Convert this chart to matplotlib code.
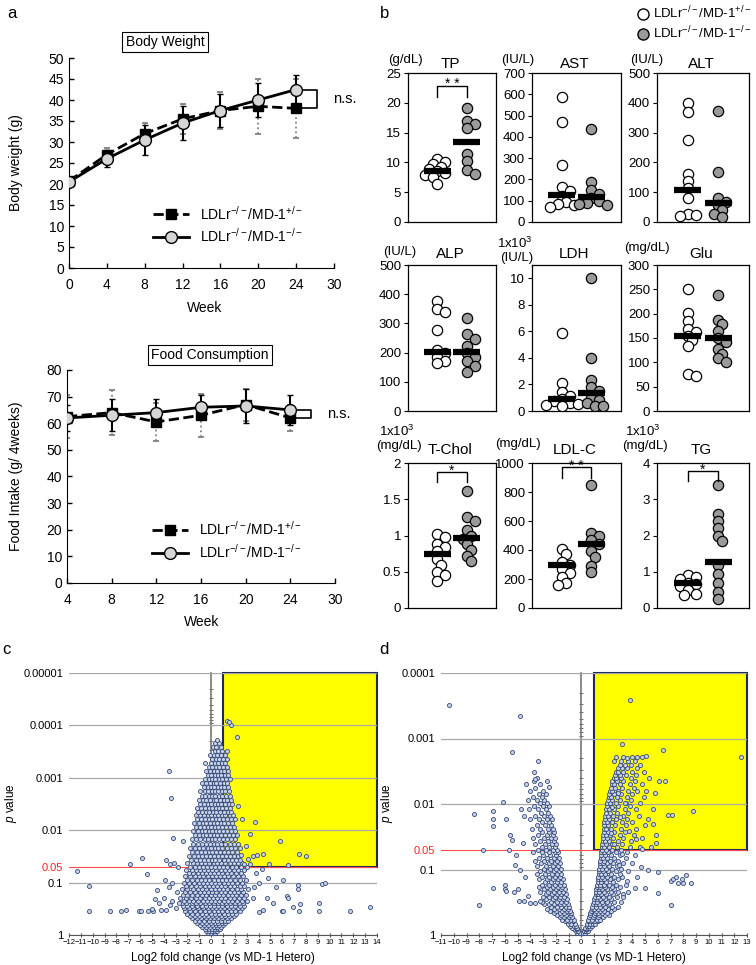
import numpy as np
import matplotlib
matplotlib.use('Agg')
import matplotlib.pyplot as plt
from matplotlib.patches import Rectangle
from matplotlib.lines import Line2D
from matplotlib.ticker import NullLocator

plt.rcParams['font.family'] = ['Liberation Sans', 'DejaVu Sans']
plt.rcParams['mathtext.fontset'] = 'custom'
plt.rcParams['mathtext.rm'] = 'Liberation Sans'
plt.rcParams['mathtext.it'] = 'Liberation Sans:italic'
plt.rcParams['mathtext.bf'] = 'Liberation Sans:bold'

HET = 'LDLr$^{-/-}$/MD-1$^{+/-}$'
KO = 'LDLr$^{-/-}$/MD-1$^{-/-}$'

# ---- panel a : body weight / food consumption ----
bw_weeks = ['0', '4', '8', '12', '16', '20', '24', '30']
bw_het = [20.7, 27.0, 32.0, 35.5, 37.5, 38.5, 38.0]
bw_het_sd = [1.0, 1.5, 2.5, 3.5, 4.5, 6.5, 7.0]
bw_ko = [20.5, 26.0, 30.5, 34.5, 37.5, 40.0, 42.5]
bw_ko_sd = [1.0, 2.0, 3.5, 4.0, 4.0, 4.0, 3.5]

fc_weeks = ['4', '8', '12', '16', '20', '24', '30']
fc_het = [62.5, 64.0, 60.5, 63.0, 67.0, 62.0]
fc_het_sd = [8.0, 8.5, 7.0, 8.0, 6.0, 5.0]
fc_ko = [62.0, 63.0, 64.0, 66.0, 66.5, 65.0]
fc_ko_sd = [5.0, 6.0, 5.0, 4.5, 6.5, 5.5]

# ---- panel b : serum chemistry ----
b_names = ['TP', 'AST', 'ALT', 'ALP', 'LDH', 'Glu', 'T-Chol', 'LDL-C', 'TG']
b_units = ['(g/dL)', '(IU/L)', '(IU/L)', '(IU/L)', '(IU/L)', '(mg/dL)',
           '(mg/dL)', '(mg/dL)', '(mg/dL)']
b_scale = ['', '', '', '', '1x10$^3$', '', '1x10$^3$', '', '1x10$^3$']
b_ymax = [25, 700, 500, 500, 11, 300, 2, 1000, 4]
b_ystep = [5, 100, 100, 100, 2, 50, 0.5, 200, 1]
b_het = [
    [10.6, 10.1, 9.8, 9.3, 8.9, 8.5, 8.2, 7.9, 7.5, 6.3],
    [585, 470, 268, 165, 145, 120, 95, 85, 78, 72],
    [400, 368, 276, 162, 137, 114, 82, 28, 22, 20],
    [377, 350, 340, 276, 210, 198, 185, 172, 163],
    [5.9, 2.1, 1.4, 1.1, 0.9, 0.75, 0.6, 0.5, 0.45, 0.4],
    [250, 202, 185, 168, 162, 155, 145, 133, 76, 72],
    [1.02, 0.98, 0.88, 0.84, 0.78, 0.68, 0.6, 0.5, 0.45, 0.37],
    [410, 370, 320, 300, 270, 240, 215, 175, 160],
    [0.9, 0.85, 0.8, 0.7, 0.65, 0.6, 0.5, 0.4, 0.35],
]
b_ko = [
    [19.2, 17.0, 16.5, 15.8, 11.4, 10.3, 8.7, 8.0],
    [435, 190, 150, 130, 115, 100, 90, 85, 80],
    [373, 168, 80, 68, 57, 40, 28, 17],
    [318, 262, 248, 222, 200, 185, 170, 155, 133],
    [10.0, 4.0, 2.3, 1.8, 1.5, 1.0, 0.8, 0.6, 0.4, 0.35],
    [238, 188, 178, 165, 150, 142, 128, 118, 108, 100],
    [1.62, 1.25, 1.2, 1.08, 1.0, 0.95, 0.88, 0.8, 0.72, 0.65],
    [850, 515, 495, 470, 440, 390, 350, 290, 245],
    [3.4, 2.6, 2.4, 2.2, 2.0, 1.85, 1.2, 0.95, 0.7, 0.45, 0.25],
]
b_het_mean = [8.5, 126, 106, 203, 0.9, 155, 0.74, 294, 0.69]
b_ko_mean = [13.5, 118, 63, 203, 1.33, 151, 0.97, 441, 1.26]
b_sig = {0: ('* *', 21.0, 22.9), 6: ('*', 1.74, 1.876),
         7: ('* *', 897, 972), 8: ('*', 3.5, 3.78)}

# ---- panel c : volcano (p value vs log2 fold change) ----
c_rows = [
    (0.96, [-0.1, 0.05, 0.15]),
    (0.90, [-0.25, -0.05, 0.2, 0.3]),
    (0.83, [-0.4, -0.15, 0.1, 0.35, 0.5]),
    (0.76, [-0.55, -0.2, 0.05, 0.3, 0.6, 0.75]),
    (0.70, [-0.8, -0.45, -0.1, 0.2, 0.5, 0.85]),
    (0.64, [-0.9, -0.6, -0.25, 0.1, 0.4, 0.7, 1.0]),
    (0.58, [-1.2, -0.8, -0.4, -0.05, 0.3, 0.6, 0.95, 1.2]),
    (0.53, [-1.35, -1.0, -0.6, -0.2, 0.15, 0.5, 0.8, 1.15, 1.45]),
    (0.48, [-1.6, -1.2, -0.85, -0.45, -0.1, 0.25, 0.6, 0.95, 1.3, 1.65]),
    (0.43, [-1.8, -1.4, -1.0, -0.6, -0.25, 0.1, 0.45, 0.8, 1.15, 1.5, 1.9]),
    (0.39, [-2.0, -1.6, -1.2, -0.8, -0.4, 0.0, 0.35, 0.7, 1.05, 1.4, 1.8, 2.1]),
    (0.35, [-2.2, -1.75, -1.35, -0.95, -0.55, -0.2, 0.2, 0.55, 0.9, 1.3, 1.65, 2.0, 2.4]),
    (0.31, [-2.3, -1.9, -1.5, -1.1, -0.7, -0.3, 0.05, 0.4, 0.75, 1.1, 1.5, 1.85, 2.25, 2.6]),
    (0.28, [-2.4, -2.0, -1.6, -1.2, -0.8, -0.45, -0.1, 0.25, 0.6, 0.95, 1.3, 1.7, 2.05, 2.45, 2.8]),
    (0.25, [-2.5, -2.1, -1.65, -1.25, -0.9, -0.5, -0.15, 0.2, 0.55, 0.9, 1.25, 1.6, 2.0, 2.35, 2.7]),
    (0.22, [-2.3, -1.9, -1.5, -1.1, -0.7, -0.35, 0.0, 0.35, 0.7, 1.05, 1.45, 1.8, 2.2, 2.6, 3.0]),
    (0.195, [-2.6, -2.1, -1.7, -1.3, -0.9, -0.55, -0.2, 0.15, 0.5, 0.85, 1.2, 1.6, 1.95, 2.35, 2.75]),
    (0.17, [-2.4, -2.0, -1.6, -1.2, -0.8, -0.4, -0.05, 0.3, 0.65, 1.0, 1.4, 1.75, 2.1, 2.5, 2.9]),
    (0.15, [-2.2, -1.75, -1.35, -0.95, -0.6, -0.25, 0.1, 0.45, 0.8, 1.15, 1.55, 1.9, 2.3, 2.7]),
    (0.13, [-2.5, -2.0, -1.55, -1.15, -0.75, -0.4, -0.05, 0.3, 0.65, 1.0, 1.35, 1.75, 2.15, 2.55, 3.1]),
    (0.115, [-2.1, -1.7, -1.3, -0.9, -0.55, -0.2, 0.15, 0.5, 0.85, 1.2, 1.6, 1.95, 2.4, 2.8]),
    (0.10, [-2.3, -1.85, -1.45, -1.05, -0.7, -0.35, 0.0, 0.35, 0.7, 1.05, 1.4, 1.8, 2.2, 2.6]),
    (0.088, [-2.0, -1.6, -1.2, -0.85, -0.5, -0.15, 0.2, 0.55, 0.9, 1.25, 1.6, 2.0, 2.45, 2.9]),
    (0.076, [-2.2, -1.75, -1.35, -1.0, -0.65, -0.3, 0.05, 0.4, 0.75, 1.1, 1.45, 1.85, 2.25, 2.65]),
    (0.066, [-1.9, -1.5, -1.15, -0.8, -0.45, -0.1, 0.25, 0.6, 0.95, 1.3, 1.7, 2.1, 2.5]),
    (0.057, [-2.1, -1.65, -1.3, -0.95, -0.6, -0.25, 0.1, 0.45, 0.8, 1.15, 1.5, 1.9, 2.3, 2.75]),
    (0.050, [-1.8, -1.4, -1.05, -0.7, -0.35, 0.0, 0.3, 0.65, 1.0, 1.35, 1.75, 2.1, 2.55, 3.0]),
    (0.043, [-2.0, -1.55, -1.2, -0.85, -0.5, -0.15, 0.2, 0.5, 0.85, 1.2, 1.55, 1.9, 2.3, 2.6]),
    (0.037, [-1.7, -1.3, -0.95, -0.6, -0.3, 0.05, 0.35, 0.7, 1.05, 1.4, 1.75, 2.1, 2.45]),
    (0.031, [-1.85, -1.45, -1.1, -0.75, -0.4, -0.1, 0.2, 0.55, 0.9, 1.25, 1.6, 1.95, 2.3]),
    (0.026, [-1.6, -1.2, -0.85, -0.5, -0.2, 0.1, 0.4, 0.75, 1.1, 1.45, 1.8, 2.2]),
    (0.022, [-1.75, -1.35, -1.0, -0.65, -0.3, 0.0, 0.3, 0.6, 0.95, 1.3, 1.65, 2.0, 2.4]),
    (0.018, [-1.5, -1.1, -0.75, -0.45, -0.1, 0.2, 0.5, 0.85, 1.2, 1.55, 1.9, 2.25]),
    (0.015, [-1.65, -1.25, -0.9, -0.55, -0.25, 0.05, 0.35, 0.7, 1.0, 1.35, 1.7, 2.05]),
    (0.0125, [-1.4, -1.05, -0.7, -0.4, -0.1, 0.2, 0.5, 0.8, 1.15, 1.5, 1.85, 2.2]),
    (0.0105, [-1.55, -1.15, -0.8, -0.5, -0.2, 0.1, 0.4, 0.7, 1.0, 1.35, 1.7, 2.0]),
    (0.0088, [-1.3, -0.95, -0.6, -0.3, 0.0, 0.3, 0.6, 0.9, 1.25, 1.6, 1.95]),
    (0.0074, [-1.45, -1.05, -0.7, -0.4, -0.1, 0.2, 0.5, 0.8, 1.1, 1.45, 1.8]),
    (0.0062, [-1.2, -0.85, -0.5, -0.2, 0.1, 0.4, 0.7, 1.0, 1.35, 1.7, 2.05]),
    (0.0052, [-1.3, -0.95, -0.6, -0.3, 0.0, 0.3, 0.6, 0.9, 1.2, 1.55, 1.85]),
    (0.0044, [-1.1, -0.75, -0.45, -0.15, 0.15, 0.45, 0.75, 1.05, 1.4, 1.7]),
    (0.0037, [-1.2, -0.85, -0.5, -0.2, 0.1, 0.4, 0.65, 0.95, 1.25, 1.6]),
    (0.0031, [-0.95, -0.6, -0.3, 0.0, 0.3, 0.55, 0.85, 1.15, 1.5, 1.8]),
    (0.0026, [-1.05, -0.7, -0.4, -0.1, 0.2, 0.45, 0.75, 1.05, 1.35, 1.65]),
    (0.0022, [-0.8, -0.5, -0.2, 0.1, 0.35, 0.65, 0.95, 1.25, 1.55]),
    (0.0018, [-0.9, -0.55, -0.25, 0.05, 0.3, 0.6, 0.9, 1.2, 1.5]),
    (0.0015, [-0.6, -0.3, 0.0, 0.25, 0.55, 0.8, 1.1, 1.4]),
    (0.00125, [-0.75, -0.4, -0.1, 0.2, 0.45, 0.75, 1.05, 1.35]),
    (0.00105, [-0.5, -0.2, 0.1, 0.35, 0.65, 0.95, 1.25, 1.6]),
    (0.00088, [-0.3, 0.0, 0.3, 0.55, 0.85, 1.15, 1.45]),
    (0.00074, [-0.45, -0.1, 0.2, 0.5, 0.8, 1.1, 1.4]),
    (0.00062, [-0.2, 0.1, 0.4, 0.7, 1.0, 1.3]),
    (0.00052, [-0.5, 0.0, 0.3, 0.6, 0.9, 1.2]),
    (0.00044, [0.1, 0.4, 0.7, 1.0, 1.35]),
    (0.00037, [-0.1, 0.2, 0.5, 0.85, 1.2]),
    (0.00031, [0.3, 0.6, 0.9, 1.3]),
    (0.00026, [0.15, 0.45, 0.8]),
    (0.00022, [0.35, 0.65]),
    (0.00019, [0.5]),
]
c_outliers = [
    (-11.3, 0.06), (-10.3, 0.117), (-10.3, 0.35), (-8.5, 0.35), (-7.6, 0.35), (-7.2, 0.33),
    (-6.85, 0.045), (-6.1, 0.35), (-5.9, 0.35), (-5.8, 0.034), (-5.4, 0.07), (-5.3, 0.35),
    (-4.9, 0.35), (-5.0, 0.32), (-4.6, 0.14), (-4.7, 0.21), (-4.4, 0.24), (-4.2, 0.34),
    (-3.8, 0.037), (-3.6, 7.4e-4), (-3.4, 0.0024), (-3.2, 0.014), (-2.4, 0.016),
    (-3.5, 0.045), (-3.1, 0.042), (-2.8, 0.05), (-3.9, 0.09), (-3.6, 0.12), (-3.3, 0.1),
    (-4.0, 0.2), (-3.5, 0.27), (-3.0, 0.3), (-3.8, 0.33), (-3.3, 0.22), (-2.9, 0.15),
    (-2.7, 0.25), (2.2, 1.7e-4), (1.7, 1.0e-4), (1.3, 8.3e-5), (1.5, 8.5e-5),
    (3.66, 0.007), (3.3, 0.012), (5.8, 0.016), (4.4, 0.028), (7.4, 0.029), (8.0, 0.031),
    (6.45, 0.046), (4.9, 0.045), (3.9, 0.03), (3.5, 0.031), (9.35, 0.107), (9.6, 0.1),
    (7.3, 0.11), (7.3, 0.13), (6.1, 0.09), (5.5, 0.12), (6.4, 0.18), (6.5, 0.2),
    (6.9, 0.29), (7.5, 0.26), (9.1, 0.25), (9.1, 0.35), (11.75, 0.35), (13.45, 0.29),
    (6.0, 0.35), (6.1, 0.35), (7.4, 0.35), (5.2, 0.25), (4.7, 0.2), (4.4, 0.33),
    (4.0, 0.36), (3.6, 0.12), (4.0, 0.1), (4.8, 0.08), (3.5, 0.2), (3.8, 0.065),
    (4.3, 0.055), (2.6, 0.006), (2.9, 0.02), (3.1, 0.035), (2.75, 0.045), (2.5, 0.03),
    (3.3, 0.045), (2.3, 0.0035),
]

# ---- panel d : volcano ----
d_rows = [
    (0.96, [-0.15, -0.05, 0.08, 0.2]),
    (0.92, [-0.3, -0.12, 0.12, 0.28]),
    (0.87, [-0.42, -0.22, 0.2, 0.38, 0.5]),
    (0.82, [-0.55, -0.35, 0.3, 0.48]),
    (0.77, [-0.7, -0.45, -0.3, 0.33, 0.55, 0.7]),
    (0.72, [-0.85, -0.6, -0.4, 0.42, 0.62, 0.88]),
    (0.67, [-1.05, -0.78, -0.5, 0.45, 0.7, 0.95, 1.1]),
    (0.62, [-1.25, -0.95, -0.62, 0.5, 0.78, 1.05, 1.3]),
    (0.58, [-1.5, -1.12, -0.8, -0.6, 0.55, 0.85, 1.2, 1.5]),
    (0.54, [-1.7, -1.35, -1.0, -0.72, 0.6, 0.9, 1.3, 1.7]),
    (0.50, [-1.9, -1.55, -1.2, -0.85, 0.66, 0.98, 1.42, 1.85, 2.2]),
    (0.46, [-2.15, -1.7, -1.35, -1.0, -0.8, 0.7, 1.05, 1.3, 1.6, 2.0]),
    (0.43, [-2.45, -1.95, -1.5, -1.15, -0.9, 0.78, 1.12, 1.5, 1.82, 2.35]),
    (0.40, [-2.7, -2.15, -1.75, -1.38, -1.02, 0.82, 1.02, 1.28, 1.65, 2.1, 2.6]),
    (0.37, [-2.35, -1.9, -1.55, -1.2, -0.95, 0.88, 1.18, 1.45, 1.9, 2.45, 2.9]),
    (0.34, [-2.9, -2.55, -2.1, -1.7, -1.35, -1.05, 0.92, 1.12, 1.38, 1.7, 2.2]),
    (0.31, [-3.1, -2.4, -1.9, -1.55, -1.2, 0.98, 1.25, 1.6, 2.0, 2.6, 3.1]),
    (0.285, [-2.75, -2.25, -1.75, -1.42, -1.1, 1.02, 1.2, 1.48, 1.85, 2.35]),
    (0.26, [-3.0, -2.5, -2.05, -1.65, -1.32, 1.08, 1.35, 1.72, 2.15, 2.8]),
    (0.24, [-2.8, -2.3, -1.9, -1.55, -1.22, 1.12, 1.3, 1.58, 1.98, 2.5, 3.3]),
    (0.22, [-3.2, -2.62, -2.15, -1.75, -1.4, 1.15, 1.42, 1.82, 2.3, 2.9]),
    (0.20, [-2.95, -2.45, -2.0, -1.62, -1.3, 1.18, 1.38, 1.65, 2.05, 2.55]),
    (0.185, [-3.35, -2.7, -2.25, -1.85, -1.5, 1.22, 1.5, 1.9, 2.4, 3.0]),
    (0.17, [-3.1, -2.55, -2.08, -1.7, -1.38, 1.25, 1.45, 1.75, 2.15, 2.7, 3.5]),
    (0.155, [-2.85, -2.35, -1.92, -1.55, 1.28, 1.58, 1.98, 2.5]),
    (0.14, [-3.3, -2.7, -2.2, -1.8, -1.45, 1.32, 1.52, 1.82, 2.25, 2.85]),
    (0.128, [-3.05, -2.5, -2.02, -1.65, 1.35, 1.65, 2.05, 2.6, 3.2]),
    (0.117, [-3.45, -2.85, -2.32, -1.88, -1.55, 1.38, 1.58, 1.9, 2.35, 3.0]),
    (0.107, [-3.2, -2.6, -2.12, -1.72, 1.4, 1.72, 2.12, 2.7, 3.7]),
    (0.097, [-2.95, -2.42, -1.98, -1.62, 1.42, 1.62, 1.95, 2.45, 3.1]),
    (0.088, [-3.5, -2.75, -2.25, -1.82, 1.45, 1.78, 2.2, 2.8]),
    (0.080, [-3.15, -2.55, -2.08, -1.7, 1.48, 1.68, 2.0, 2.5, 3.3, 4.0]),
    (0.073, [-3.65, -2.9, -2.35, -1.92, 1.5, 1.82, 2.25, 2.9]),
    (0.066, [-3.3, -2.65, -2.15, -1.78, 1.52, 1.72, 2.05, 2.6, 3.5]),
    (0.060, [-3.0, -2.45, -2.0, 1.55, 1.88, 2.32, 3.0, 4.2]),
    (0.055, [-3.8, -3.1, -2.55, -2.08, -1.8, 1.58, 1.78, 2.1, 2.7, 3.6]),
    (0.050, [-3.4, -2.75, -2.25, -1.9, 1.6, 1.92, 2.4, 3.1]),
    (0.045, [-3.05, -2.5, -2.05, 1.62, 1.82, 2.15, 2.8, 3.8, 4.6]),
    (0.041, [-3.6, -2.85, -2.3, -1.95, 1.65, 1.98, 2.45, 3.2]),
    (0.037, [-3.25, -2.6, -2.15, 1.68, 1.88, 2.2, 2.9, 3.9]),
    (0.033, [-3.8, -2.95, -2.4, -2.02, 1.7, 2.02, 2.5, 3.3, 4.8]),
    (0.030, [-3.4, -2.7, -2.2, 1.72, 1.92, 2.28, 3.0, 4.1]),
    (0.027, [-3.1, -2.5, -2.1, 1.75, 2.08, 2.58, 3.4]),
    (0.024, [-3.9, -3.2, -2.6, -2.2, 1.78, 1.98, 2.35, 3.1, 4.3]),
    (0.021, [-3.5, -2.85, -2.35, 1.8, 2.12, 2.65, 3.5, 5.0]),
    (0.019, [-3.05, -2.5, 1.82, 2.02, 2.42, 3.2, 4.0]),
    (0.017, [-4.0, -3.3, -2.7, -2.3, 1.85, 2.18, 2.72, 3.6, 5.2]),
    (0.015, [-3.6, -2.9, -2.45, 1.9, 2.1, 2.5, 3.3, 4.5]),
    (0.0135, [-3.15, -2.6, 1.92, 2.25, 2.8, 3.7]),
    (0.012, [-4.1, -3.4, -2.8, 1.95, 2.15, 2.6, 3.4, 4.3, 5.6]),
    (0.0108, [-3.7, -3.0, -2.5, 2.0, 2.32, 2.9, 3.8]),
    (0.0097, [-3.25, -2.7, 2.05, 2.25, 2.7, 3.5, 4.6]),
    (0.0087, [-4.2, -3.5, -2.9, 2.1, 2.42, 3.0, 3.9]),
    (0.0078, [-3.8, -3.1, 2.15, 2.35, 2.8, 3.6, 4.9]),
    (0.0070, [-3.35, -2.8, 2.2, 2.55, 3.1, 4.0]),
    (0.0063, [-4.0, -3.0, 2.25, 2.45, 2.9, 3.7, 4.4, 5.1]),
    (0.0056, [-3.6, 2.3, 2.65, 3.2, 4.1]),
    (0.0050, [-4.3, -3.2, 2.4, 2.6, 3.0, 3.8, 4.8]),
    (0.0045, [-3.7, 2.45, 2.8, 3.3, 4.2]),
    (0.0040, [-3.5, 2.55, 2.75, 3.1, 3.9, 5.3]),
    (0.0036, [2.65, 3.0, 3.5, 4.3]),
    (0.0032, [2.7, 2.9, 3.3, 4.0, 4.9]),
    (0.0028, [2.85, 3.2, 3.6, 4.4]),
    (0.0025, [3.0, 3.4, 3.9, 4.6]),
    (0.0022, [2.6, 3.1, 3.7, 4.2]),
    (0.0019, [3.3, 4.0, 4.8]),
]
d_outliers = [
    (-10.4, 3.1e-4), (-4.8, 4.5e-4), (-5.4, 1.6e-3), (-3.4, 2.2e-3), (-3.7, 3.2e-3),
    (-3.6, 4.2e-3), (-2.7, 4.4e-3), (-2.55, 5.5e-3), (-8.4, 0.014), (-6.9, 0.0126),
    (-6.15, 0.0093), (-6.9, 0.017), (-6.95, 0.022), (-5.9, 0.017), (-7.7, 0.051),
    (-5.7, 0.051), (-8.0, 0.35), (-6.95, 0.19), (-6.0, 0.17), (-6.0, 0.2), (-5.9, 0.21),
    (-5.2, 0.085), (-5.0, 0.2), (-5.3, 0.22), (-4.9, 0.3), (-4.5, 0.3), (-4.2, 0.25),
    (-5.6, 0.03), (-5.4, 0.035), (-4.7, 0.012), (-4.5, 0.015), (-4.6, 0.04), (-5.1, 0.06),
    (-4.8, 0.1), (-4.4, 0.13), (-4.0, 0.32), (-3.6, 0.33), (-3.2, 0.3),
    (3.85, 2.6e-4), (3.2, 1.2e-3), (6.4, 1.5e-3), (12.5, 1.95e-3), (2.7, 1.9e-3),
    (3.6, 2.0e-3), (4.4, 1.9e-3), (5.1, 1.85e-3), (6.1, 4.5e-3), (6.6, 4.4e-3),
    (5.75, 6.8e-3), (6.8, 0.0145), (7.15, 0.0145), (8.8, 0.0126), (5.0, 0.19),
    (6.0, 0.23), (7.0, 0.35), (7.0, 0.15), (7.2, 0.14), (7.4, 0.13), (7.6, 0.16),
    (7.9, 0.14), (8.2, 0.12), (8.6, 0.16), (8.0, 0.16), (5.2, 0.1), (6.0, 0.11),
    (4.4, 0.13), (4.2, 0.19), (4.7, 0.09), (3.3, 0.26), (3.6, 0.15), (5.6, 0.02),
    (5.9, 0.03), (5.9, 0.04), (5.5, 0.045), (4.8, 0.048), (3.7, 0.22),
    (2.45, 0.011), (3.0, 0.016), (2.85, 0.0068), (3.45, 0.0095), (2.3, 0.028),
    (3.75, 0.026), (2.6, 0.041), (4.3, 0.034), (3.2, 0.058), (2.95, 0.085),
]


W, H = 756, 965
fig = plt.figure(figsize=(W / 100, H / 100), dpi=100)


def px_axes(l, t, r, b):
    return fig.add_axes([l / W, 1 - b / H, (r - l) / W, (b - t) / H])


def ftext(x, y, s, **kw):
    return fig.text(x / W, 1 - y / H, s, **kw)


def growth_panel(ax, labels, het, het_sd, ko, ko_sd, ymax, ystep, legend_y):
    x = np.arange(len(het))
    eh = ax.errorbar(x, het, yerr=het_sd, fmt='s--', color='black', ms=7, lw=2,
                     ecolor='#808080', elinewidth=1.3, capsize=2.5, capthick=1.3, zorder=2)
    eh[2][0].set_linestyle(':')
    ax.errorbar(x, ko, yerr=ko_sd, fmt='o-', color='black', mfc='#d6d6d6', mec='black',
                mew=1, ms=8.5, lw=2, ecolor='black', elinewidth=1.5, capsize=2.5,
                capthick=1.5, zorder=3)
    ax.set_xlim(0, len(labels) - 1)
    ax.set_ylim(0, ymax)
    ax.set_xticks(np.arange(len(labels)))
    ax.set_xticklabels(labels)
    ax.set_yticks(np.arange(0, ymax + 0.1, ystep))
    ax.spines[['top', 'right']].set_visible(False)
    ax.tick_params(direction='in', length=3.5, labelsize=10, width=1)
    ax.tick_params(axis='x', pad=7)
    handles = [Line2D([], [], color='black', ls='--', marker='s', ms=7, lw=2),
               Line2D([], [], color='black', ls='-', marker='o', mfc='#d6d6d6', ms=8.5, lw=2)]
    ax.legend(handles, [HET, KO], loc='lower left', bbox_to_anchor=(0.27, legend_y),
              frameon=False, fontsize=10, handlelength=2.6, labelspacing=0.35)
    # n.s. bracket to the right of the last time point
    p0 = ax.transData.transform([(0, 0)])[0, 0]
    ppx = ax.transData.transform([(1, 0)])[0, 0] - p0
    xe = x[-1]
    ax.plot([xe + 6 / ppx, xe + 21 / ppx, xe + 21 / ppx, xe + 6 / ppx],
            [ko[-1], ko[-1], het[-1], het[-1]], color='black', lw=1.2, clip_on=False)
    ax.text(xe + 37 / ppx, (ko[-1] + het[-1]) / 2, 'n.s.', fontsize=10.5,
            va='center', ha='left', clip_on=False)


ax_bw = px_axes(69, 58, 334, 268)
growth_panel(ax_bw, bw_weeks, bw_het, bw_het_sd, bw_ko, bw_ko_sd, 50, 5, 0.05)
ax_fc = px_axes(67, 370, 335, 583)
growth_panel(ax_fc, fc_weeks, fc_het, fc_het_sd, fc_ko, fc_ko_sd, 80, 10, 0.045)

box = dict(boxstyle='square,pad=0.25', fc='white', ec='black', lw=0.8)
ftext(165, 42, 'Body Weight', ha='center', va='center', fontsize=10, bbox=box)
ftext(210, 355, 'Food Consumption', ha='center', va='center', fontsize=10, bbox=box)
ftext(16, 163, 'Body weight (g)', rotation=90, ha='center', va='center', fontsize=10)
ftext(16, 476, 'Food Intake (g/ 4weeks)', rotation=90, ha='center', va='center', fontsize=10)
ftext(205, 308, 'Week', ha='center', va='center', fontsize=10)
ftext(202, 622, 'Week', ha='center', va='center', fontsize=10)


# ---- panel b ----
def swarm_x(ax, center, vals, diam):
    pts = ax.transData.transform([(center, v) for v in vals])
    ys = pts[:, 1]
    ppx = ax.transData.transform([(1, 0)])[0, 0] - ax.transData.transform([(0, 0)])[0, 0]
    placed = []
    xs = [center] * len(vals)
    for i in np.argsort(ys)[::-1]:
        off = 0.0
        for k in [0, 1, -1, 2, -2, 3, -3, 4, -4]:
            off = k * diam * 0.38
            if all((off - po) ** 2 + (ys[i] - py) ** 2 >= (diam * 0.58) ** 2 for po, py in placed):
                break
        placed.append((off, ys[i]))
        xs[i] = center + off / ppx
    return xs


b_cols = [(408, 496), (532, 621), (657, 749)]
b_rows = [(73, 222), (265, 411), (463, 608)]
b_title_dy = [9, 11, 13]
b_unit_dx = [-3, -14, -10, -8, -15, -10, -9, -14, -12]
b_unit_dy = [13, 13, 13, 13, 7, 17, 17, 19, 17]
diam_px = 10.5
for i, name in enumerate(b_names):
    l, r = b_cols[i % 3]
    t, b = b_rows[i // 3]
    ax = px_axes(l, t, r, b)
    ax.set_xlim(0, 3)
    ax.set_ylim(0, b_ymax[i])
    ticks = np.arange(0, b_ymax[i] + 1e-9, b_ystep[i])
    ax.set_yticks(ticks)
    ax.set_yticklabels(['{:g}'.format(v) for v in ticks])
    ax.set_xticks([])
    ax.tick_params(axis='y', direction='out', length=3, labelsize=9.5, pad=2)
    for s in ax.spines.values():
        s.set_linewidth(0.9)
    for grp, vals, mean, fcol in [(1, b_het[i], b_het_mean[i], 'white'),
                                  (2, b_ko[i], b_ko_mean[i], '#9a9a9a')]:
        xs = swarm_x(ax, grp, vals, diam_px)
        ax.plot(xs, vals, 'o', ms=7.4, mfc=fcol, mec='black', mew=0.9, zorder=3)
        ax.plot([grp - 0.45, grp + 0.45], [mean, mean], color='black', lw=4.5,
                solid_capstyle='butt', zorder=4)
    if i in b_sig:
        star, y0, y1 = b_sig[i]
        ax.plot([1, 1, 2, 2], [y0, y1, y1, y0], color='black', lw=1, zorder=5)
        ax.annotate(star, (1.5, y1), xytext=(0, -4), textcoords='offset points',
                    ha='center', va='bottom', fontsize=10, annotation_clip=False)
    ftext((l + r) / 2 - 2, t - b_title_dy[i // 3], name, ha='center', va='center',
          fontsize=11)
    ftext(l + b_unit_dx[i], t - b_unit_dy[i], b_units[i], ha='center', va='center',
          fontsize=9.5)
    if b_scale[i]:
        ftext(l + b_unit_dx[i] - 2, t - b_unit_dy[i] - 15, b_scale[i], ha='center',
              va='center', fontsize=9.5)

hb = [Line2D([], [], ls='none', marker='o', ms=8, mfc='white', mec='black', mew=1),
      Line2D([], [], ls='none', marker='o', ms=8, mfc='#9a9a9a', mec='black', mew=1)]
fig.legend(hb, [HET, KO], loc='upper left', bbox_to_anchor=(630 / W, 1 + 3 / H),
           frameon=False, fontsize=9.5, handlelength=0.8, handletextpad=0.35,
           labelspacing=0.25, borderaxespad=0.2)


# ---- panels c, d ----
def flatten(rows, outliers):
    fc = [x for p, xs in rows for x in xs] + [o[0] for o in outliers]
    pv = [p for p, xs in rows for x in xs] + [o[1] for o in outliers]
    return fc, pv


def volcano(ax, fc, pv, xmin, xmax, ptop):
    ax.set_yscale('log')
    ax.set_xlim(xmin, xmax)
    ax.set_ylim(1, ptop)
    ax.add_patch(Rectangle((1, ptop), xmax - 1, 0.05 - ptop, fc='#ffff00',
                           ec='#1c2a5c', lw=1.5, zorder=1, clip_on=False))
    yt = [v for v in [1e-5, 1e-4, 1e-3, 1e-2, 0.05, 0.1, 1] if v >= ptop]
    lab = {1e-5: '0.00001', 1e-4: '0.0001', 1e-3: '0.001', 1e-2: '0.01',
           0.05: '0.05', 0.1: '0.1', 1: '1'}
    ax.set_yticks(yt)
    ax.set_yticklabels([lab[v] for v in yt])
    ax.yaxis.set_minor_locator(NullLocator())
    ax.tick_params(axis='y', length=0, labelsize=8, pad=4)
    ax.grid(axis='y', color='#a8a8a8', lw=0.9)
    k = yt.index(0.05)
    ax.get_ygridlines()[k].set_color('#ff4d4d')
    ax.get_ygridlines()[k].set_linewidth(0.8)
    ax.get_yticklabels()[k].set_color('#ff2020')
    ax.set_xticks(np.arange(xmin, xmax + 1))
    ax.tick_params(axis='x', direction='inout', length=3, labelsize=5.5, pad=1.5,
                   color='#555555')
    ax.spines[['top', 'right', 'left']].set_visible(False)
    ax.spines['bottom'].set_color('#555555')
    ax.scatter(fc, pv, s=8.5, facecolor='#c9d3e8', edgecolor='#34497a', linewidths=0.6,
               zorder=3)
    sec = ax.secondary_yaxis(-xmin / (xmax - xmin))
    sec.spines['left'].set_color('#777777')
    sec.spines['left'].set_linewidth(1.2)
    sec.tick_params(which='both', direction='inout', labelleft=False, labelright=False,
                    color='#555555')
    sec.tick_params(which='major', length=5)
    sec.tick_params(which='minor', length=3)
    ax.set_xlabel('Log2 fold change (vs MD-1 Hetero)', fontsize=8.5, labelpad=4)


ax_c = px_axes(69, 673, 377, 935)
c_fc, c_p = flatten(c_rows, c_outliers)
volcano(ax_c, c_fc, c_p, -12, 14, 1e-5)
ax_d = px_axes(441, 673, 747, 935)
d_fc, d_p = flatten(d_rows, d_outliers)
volcano(ax_d, d_fc, d_p, -11, 13, 1e-4)
ftext(11, 803, '$p$ value', rotation=90, ha='center', va='center', fontsize=8.5)
ftext(387, 803, '$p$ value', rotation=90, ha='center', va='center', fontsize=8.5)

for s, x, y in [('a', 12, 14), ('b', 385, 14), ('c', 6, 650), ('d', 384, 650)]:
    ftext(x, y, s, fontsize=12, ha='center', va='center')

fig.savefig('out.png', dpi=100)
